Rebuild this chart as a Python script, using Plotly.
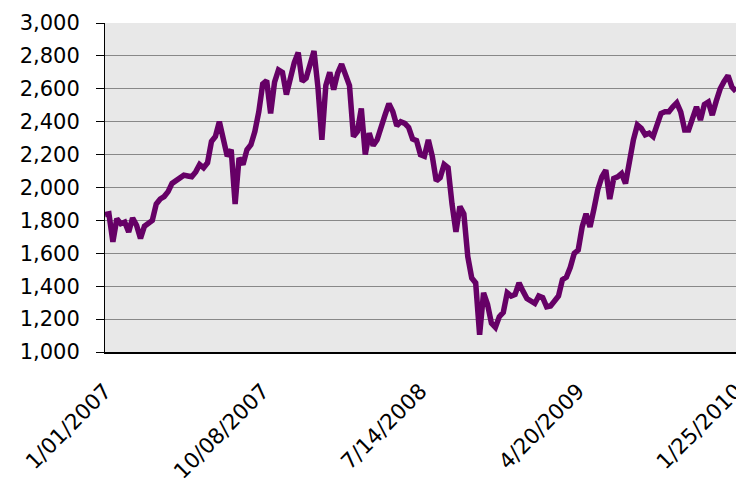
import pandas as pd
import plotly.graph_objects as go

# weekly index values
week_start = "2007-01-01"
index_values = [
    1835, 1840, 1670, 1810, 1780, 1790, 1730, 1815, 1770, 1690,
    1765, 1785, 1800, 1900, 1930, 1945, 1975, 2025, 2040, 2055,
    2075, 2070, 2065, 2095, 2140, 2120, 2150, 2280, 2310, 2400,
    2290, 2190, 2230, 1900, 2180, 2140, 2230, 2260, 2340, 2460,
    2630, 2650, 2450, 2640, 2715, 2700, 2565, 2660, 2760, 2820,
    2645, 2665, 2755, 2830, 2610, 2290, 2620, 2700, 2595, 2695,
    2750, 2675, 2620, 2310, 2340, 2480, 2200, 2330, 2255, 2290,
    2380, 2440, 2510, 2460, 2375, 2400, 2390, 2365, 2295, 2285,
    2200, 2190, 2290, 2190, 2040, 2060, 2140, 2120, 1900, 1730,
    1885, 1840, 1580, 1450, 1420, 1105, 1360, 1290, 1175, 1150,
    1215, 1240, 1360, 1340, 1350, 1420, 1370, 1325, 1310, 1295,
    1340, 1330, 1275, 1280, 1310, 1340, 1440, 1455, 1515, 1600,
    1620, 1760, 1840, 1760, 1870, 1990, 2065, 2105, 1930, 2055,
    2065, 2085, 2025, 2160, 2290, 2380, 2360, 2320, 2330, 2310,
    2390, 2450, 2460, 2460, 2490, 2515, 2460, 2350, 2350, 2420,
    2490, 2410, 2505, 2520, 2440, 2525, 2600, 2645, 2680, 2610,
    2585,
]
dates = pd.date_range(week_start, periods=len(index_values), freq="7D")

tick_dates = ["2007-01-01", "2007-10-08", "2008-07-14", "2009-04-20", "2010-01-25"]
tick_labels = ["1/01/2007", "10/08/2007", "7/14/2008", "4/20/2009", "1/25/2010"]

font_name = "DejaVu Sans"

fig = go.Figure()
fig.add_trace(go.Scatter(x=dates, y=index_values, mode="lines",
                         line=dict(color="#660066", width=5.5),
                         showlegend=False))

fig.update_layout(
    width=736, height=487,
    margin=dict(l=105, r=0, t=23, b=135),
    paper_bgcolor="white",
    plot_bgcolor="#e8e8e8",
    font=dict(family=font_name, size=21, color="black"),
)
fig.update_xaxes(
    range=["2007-01-01", "2010-01-25 03:00"],
    tickvals=tick_dates, ticktext=tick_labels,
    tickangle=-45, tickfont=dict(size=21.5),
    showgrid=False,
    showline=True, linecolor="black", linewidth=2,
    ticks="", ticklabelstandoff=16,
    ticklabeloverflow="allow",
    automargin=False,
)
fig.update_yaxes(
    range=[1000, 3000], dtick=200, tickformat=",",
    showgrid=True, gridcolor="#888888", gridwidth=1,
    showline=True, linecolor="black", linewidth=1,
    ticks="outside", ticklen=8, tickcolor="black",
    ticklabelstandoff=12,
    zeroline=False, automargin=False,
)

# drop the default page margin so the figure fills the window exactly
fig.write_html("out.html",
               config={"displayModeBar": False},
               post_script="document.body.style.margin='0';"
                           "document.body.style.overflow='hidden';")
